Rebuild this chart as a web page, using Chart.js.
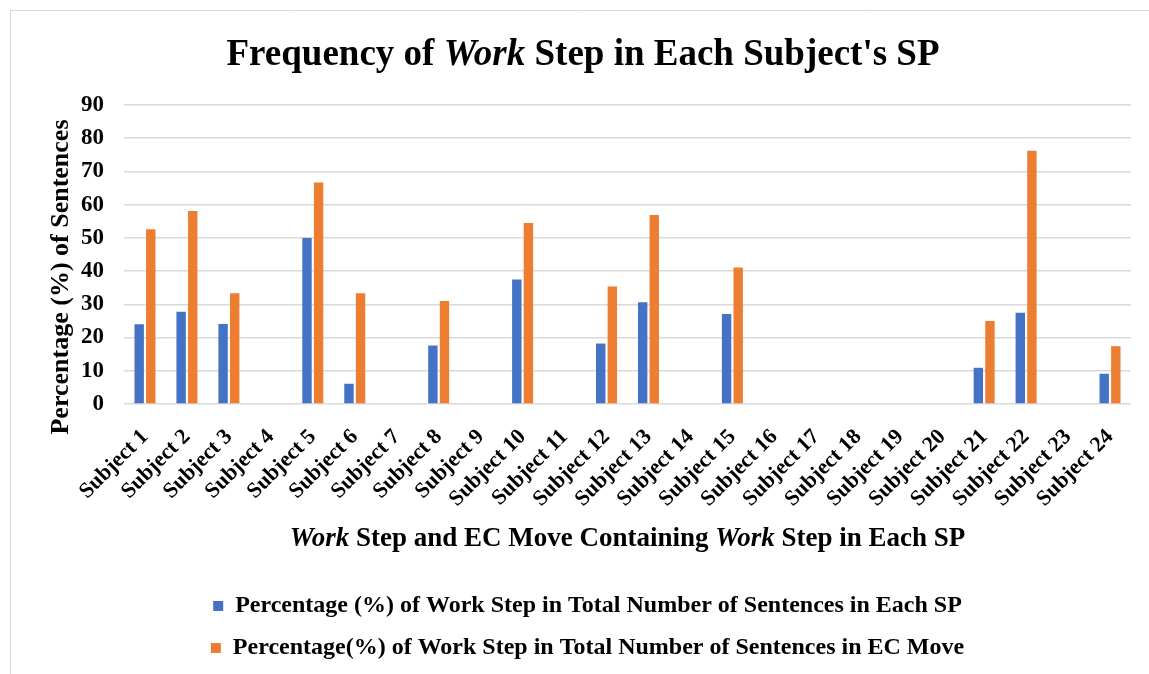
<!DOCTYPE html>
<html>
<head>
<meta charset="utf-8">
<script src="https://cdn.jsdelivr.net/npm/chart.js"></script>
<style>
  html, body { margin: 0; padding: 0; background: #fff; }
  #wrap { width: 1149px; height: 674px; }
</style>
</head>
<body>
<div id="wrap"><canvas id="chart" width="1149" height="674"></canvas></div>
<script>
const subjects = [
  'Subject 1', 'Subject 2', 'Subject 3', 'Subject 4', 'Subject 5', 'Subject 6',
  'Subject 7', 'Subject 8', 'Subject 9', 'Subject 10', 'Subject 11', 'Subject 12',
  'Subject 13', 'Subject 14', 'Subject 15', 'Subject 16', 'Subject 17', 'Subject 18',
  'Subject 19', 'Subject 20', 'Subject 21', 'Subject 22', 'Subject 23', 'Subject 24'
];

// % of Work step sentences among all sentences of each SP
const pctInSP = [24.0, 27.8, 24.1, 0, 50.0, 6.1, 0, 17.6, 0, 37.5, 0, 18.2,
                 30.6, 0, 27.1, 0, 0, 0, 0, 0, 10.9, 27.5, 0, 9.1];
// % of Work step sentences among the sentences of the EC move
const pctInEC = [52.6, 58.1, 33.3, 0, 66.7, 33.3, 0, 31.0, 0, 54.5, 0, 35.4,
                 56.9, 0, 41.1, 0, 0, 0, 0, 0, 25.0, 76.2, 0, 17.4];

const seriesNames = [
  'Percentage (%) of Work Step in Total Number of Sentences in Each SP',
  'Percentage(%) of Work Step in Total Number of Sentences in EC Move'
];

const serif = '"Liberation Serif", "Times New Roman", serif';

// draws a line of text made of several differently styled pieces, centred on cx
function drawRuns(ctx, runs, cx, y) {
  let total = 0;
  runs.forEach(r => {
    ctx.font = r.font;
    r.w = ctx.measureText(r.text).width;
    total += r.w;
  });
  let x = cx - total / 2;
  ctx.textAlign = 'left';
  runs.forEach(r => {
    ctx.font = r.font;
    ctx.fillText(r.text, x, y);
    x += r.w;
  });
}

const titlesPlugin = {
  id: 'titles',
  afterDraw(chart) {
    const ctx = chart.ctx;
    const area = chart.chartArea;
    ctx.save();
    ctx.fillStyle = '#000';
    ctx.textBaseline = 'alphabetic';

    // frame
    ctx.strokeStyle = '#d9d9d9';
    ctx.lineWidth = 1;
    ctx.beginPath();
    ctx.moveTo(10.5, 700);
    ctx.lineTo(10.5, 10.5);
    ctx.lineTo(1160, 10.5);
    ctx.stroke();

    const b = 'bold 37px ' + serif;
    const bi = 'italic bold 37px ' + serif;
    drawRuns(ctx, [
      { text: 'Frequency of ', font: b },
      { text: 'Work', font: bi },
      { text: " Step in Each Subject's SP", font: b }
    ], 583, 65);

    const xb = 'bold 27px ' + serif;
    const xbi = 'italic bold 27px ' + serif;
    drawRuns(ctx, [
      { text: 'Work', font: xbi },
      { text: ' Step and EC Move Containing ', font: xb },
      { text: 'Work', font: xbi },
      { text: ' Step in Each SP', font: xb }
    ], (area.left + area.right) / 2, 546);

    ctx.translate(68, 277);
    ctx.rotate(-Math.PI / 2);
    ctx.textAlign = 'center';
    ctx.font = 'bold 26px ' + serif;
    ctx.fillText('Percentage (%) of Sentences', 0, 0);
    ctx.restore();
  }
};

new Chart(document.getElementById('chart'), {
  type: 'bar',
  data: {
    labels: subjects,
    datasets: [
      { label: seriesNames[0], data: pctInSP, backgroundColor: '#4472C4' },
      { label: seriesNames[1], data: pctInEC, backgroundColor: '#ED7D31' }
    ]
  },
  options: {
    responsive: false,
    animation: false,
    categoryPercentage: 0.553,
    barPercentage: 0.81,
    layout: { padding: { top: 105, left: 44, right: 18, bottom: 4 } },
    plugins: {
      title: { display: false },
      tooltip: { enabled: false },
      legend: {
        position: 'bottom',
        labels: {
          color: '#000',
          boxWidth: 10,
          boxHeight: 10,
          padding: 18,
          font: { family: serif, size: 24, weight: 'bold' }
        }
      }
    },
    scales: {
      x: {
        grid: { display: false },
        border: { display: false },
        ticks: {
          color: '#000',
          font: { family: serif, size: 22, weight: 'bold' },
          minRotation: 45,
          maxRotation: 45,
          autoSkip: false,
          padding: 12
        },
        afterFit(scale) { scale.height = 172; }
      },
      y: {
        min: 0,
        max: 90,
        ticks: { stepSize: 10, color: '#000', font: { family: serif, size: 23, weight: 'bold' }, padding: 20 },
        grid: { color: '#d9d9d9', lineWidth: 1.5, drawTicks: false },
        border: { display: false },
        afterFit(scale) { scale.width = 80; }
      }
    }
  },
  plugins: [titlesPlugin]
});
</script>
</body>
</html>
